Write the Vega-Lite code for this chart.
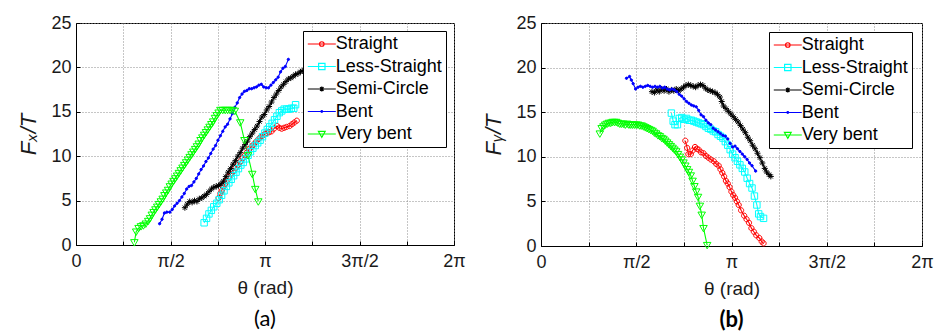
{
  "$schema": "https://vega.github.io/schema/vega-lite/v6.json",
  "background": "white",
  "padding": {"left": 17, "top": 13, "right": 0, "bottom": 0},
  "spacing": 16,
  "config": {
    "font": "Liberation Sans",
    "view": {"stroke": "#000000", "strokeWidth": 1},
    "axis": {
      "domainColor": "#000000", "tickColor": "#000000", "tickSize": -4,
      "labelFont": "Liberation Sans", "labelFontSize": 18, "labelColor": "#1a1a1a",
      "titleFont": "Liberation Sans", "titleFontSize": 19, "titleFontWeight": "normal", "titleColor": "#1a1a1a",
      "gridColor": "#8c8c8c", "gridDash": [1, 2], "gridWidth": 1, "gridOpacity": 1,
      "labelFlush": false, "labelOverlap": false
    },
    "legend": {
      "labelFont": "Liberation Sans", "labelFontSize": 18, "labelColor": "#000000",
      "symbolSize": 256, "symbolStrokeWidth": 1.2, "symbolOffset": 5.8, "labelOffset": 5,
      "rowPadding": 4.5, "padding": 4, "strokeColor": "#000000", "fillColor": "#ffffff"
    }
  },
  "datasets": {
    "a": [
      {"series": "Straight", "theta": 2.37, "F": 5.3}, {"series": "Straight", "theta": 2.40, "F": 5.8}, {"series": "Straight", "theta": 2.42, "F": 6.1}, {"series": "Straight", "theta": 2.45, "F": 6.6}, {"series": "Straight", "theta": 2.48, "F": 6.9}, {"series": "Straight", "theta": 2.50, "F": 7.2}, {"series": "Straight", "theta": 2.54, "F": 7.7}, {"series": "Straight", "theta": 2.57, "F": 8.0}, {"series": "Straight", "theta": 2.61, "F": 8.3}, {"series": "Straight", "theta": 2.65, "F": 8.7}, {"series": "Straight", "theta": 2.69, "F": 9.0}, {"series": "Straight", "theta": 2.73, "F": 9.4}, {"series": "Straight", "theta": 2.77, "F": 9.8}, {"series": "Straight", "theta": 2.81, "F": 10.1}, {"series": "Straight", "theta": 2.84, "F": 10.4}, {"series": "Straight", "theta": 2.88, "F": 10.8}, {"series": "Straight", "theta": 2.92, "F": 11.1}, {"series": "Straight", "theta": 2.95, "F": 11.3}, {"series": "Straight", "theta": 2.99, "F": 11.6}, {"series": "Straight", "theta": 3.03, "F": 11.9}, {"series": "Straight", "theta": 3.06, "F": 12.1}, {"series": "Straight", "theta": 3.10, "F": 12.3}, {"series": "Straight", "theta": 3.14, "F": 12.5}, {"series": "Straight", "theta": 3.17, "F": 12.6}, {"series": "Straight", "theta": 3.21, "F": 12.7}, {"series": "Straight", "theta": 3.25, "F": 12.8}, {"series": "Straight", "theta": 3.29, "F": 13.1}, {"series": "Straight", "theta": 3.34, "F": 13.4}, {"series": "Straight", "theta": 3.38, "F": 13.2}, {"series": "Straight", "theta": 3.42, "F": 13.1}, {"series": "Straight", "theta": 3.46, "F": 13.2}, {"series": "Straight", "theta": 3.50, "F": 13.3}, {"series": "Straight", "theta": 3.55, "F": 13.4}, {"series": "Straight", "theta": 3.59, "F": 13.6}, {"series": "Straight", "theta": 3.63, "F": 13.8}, {"series": "Straight", "theta": 3.67, "F": 14.0},
      {"series": "Less-Straight", "theta": 2.13, "F": 2.5}, {"series": "Less-Straight", "theta": 2.17, "F": 3.0}, {"series": "Less-Straight", "theta": 2.21, "F": 3.5}, {"series": "Less-Straight", "theta": 2.25, "F": 3.9}, {"series": "Less-Straight", "theta": 2.29, "F": 4.3}, {"series": "Less-Straight", "theta": 2.34, "F": 4.7}, {"series": "Less-Straight", "theta": 2.38, "F": 5.1}, {"series": "Less-Straight", "theta": 2.42, "F": 5.6}, {"series": "Less-Straight", "theta": 2.46, "F": 6.1}, {"series": "Less-Straight", "theta": 2.50, "F": 6.6}, {"series": "Less-Straight", "theta": 2.54, "F": 7.0}, {"series": "Less-Straight", "theta": 2.58, "F": 7.4}, {"series": "Less-Straight", "theta": 2.62, "F": 7.8}, {"series": "Less-Straight", "theta": 2.66, "F": 8.2}, {"series": "Less-Straight", "theta": 2.70, "F": 8.6}, {"series": "Less-Straight", "theta": 2.74, "F": 9.0}, {"series": "Less-Straight", "theta": 2.78, "F": 9.3}, {"series": "Less-Straight", "theta": 2.82, "F": 9.7}, {"series": "Less-Straight", "theta": 2.86, "F": 10.1}, {"series": "Less-Straight", "theta": 2.90, "F": 10.5}, {"series": "Less-Straight", "theta": 2.94, "F": 10.9}, {"series": "Less-Straight", "theta": 2.98, "F": 11.2}, {"series": "Less-Straight", "theta": 3.02, "F": 11.5}, {"series": "Less-Straight", "theta": 3.06, "F": 11.8}, {"series": "Less-Straight", "theta": 3.10, "F": 12.2}, {"series": "Less-Straight", "theta": 3.14, "F": 12.6}, {"series": "Less-Straight", "theta": 3.18, "F": 13.0}, {"series": "Less-Straight", "theta": 3.22, "F": 13.3}, {"series": "Less-Straight", "theta": 3.26, "F": 13.7}, {"series": "Less-Straight", "theta": 3.30, "F": 14.1}, {"series": "Less-Straight", "theta": 3.34, "F": 14.5}, {"series": "Less-Straight", "theta": 3.38, "F": 14.9}, {"series": "Less-Straight", "theta": 3.42, "F": 15.1}, {"series": "Less-Straight", "theta": 3.46, "F": 15.3}, {"series": "Less-Straight", "theta": 3.50, "F": 15.3}, {"series": "Less-Straight", "theta": 3.54, "F": 15.3}, {"series": "Less-Straight", "theta": 3.58, "F": 15.4}, {"series": "Less-Straight", "theta": 3.62, "F": 15.4}, {"series": "Less-Straight", "theta": 3.65, "F": 15.8},
      {"series": "Semi-Circle", "theta": 1.81, "F": 4.2}, {"series": "Semi-Circle", "theta": 1.85, "F": 4.6}, {"series": "Semi-Circle", "theta": 1.89, "F": 4.9}, {"series": "Semi-Circle", "theta": 1.93, "F": 4.8}, {"series": "Semi-Circle", "theta": 1.97, "F": 5.0}, {"series": "Semi-Circle", "theta": 2.01, "F": 4.9}, {"series": "Semi-Circle", "theta": 2.05, "F": 5.2}, {"series": "Semi-Circle", "theta": 2.09, "F": 5.3}, {"series": "Semi-Circle", "theta": 2.13, "F": 5.5}, {"series": "Semi-Circle", "theta": 2.17, "F": 5.7}, {"series": "Semi-Circle", "theta": 2.21, "F": 6.0}, {"series": "Semi-Circle", "theta": 2.25, "F": 6.3}, {"series": "Semi-Circle", "theta": 2.29, "F": 6.5}, {"series": "Semi-Circle", "theta": 2.33, "F": 6.6}, {"series": "Semi-Circle", "theta": 2.37, "F": 6.7}, {"series": "Semi-Circle", "theta": 2.41, "F": 6.9}, {"series": "Semi-Circle", "theta": 2.45, "F": 7.2}, {"series": "Semi-Circle", "theta": 2.49, "F": 7.7}, {"series": "Semi-Circle", "theta": 2.53, "F": 8.2}, {"series": "Semi-Circle", "theta": 2.57, "F": 8.6}, {"series": "Semi-Circle", "theta": 2.61, "F": 9.1}, {"series": "Semi-Circle", "theta": 2.65, "F": 9.5}, {"series": "Semi-Circle", "theta": 2.69, "F": 10.0}, {"series": "Semi-Circle", "theta": 2.73, "F": 10.4}, {"series": "Semi-Circle", "theta": 2.77, "F": 10.9}, {"series": "Semi-Circle", "theta": 2.81, "F": 11.3}, {"series": "Semi-Circle", "theta": 2.85, "F": 11.7}, {"series": "Semi-Circle", "theta": 2.89, "F": 12.2}, {"series": "Semi-Circle", "theta": 2.93, "F": 12.6}, {"series": "Semi-Circle", "theta": 2.97, "F": 13.0}, {"series": "Semi-Circle", "theta": 3.01, "F": 13.4}, {"series": "Semi-Circle", "theta": 3.05, "F": 13.9}, {"series": "Semi-Circle", "theta": 3.09, "F": 14.4}, {"series": "Semi-Circle", "theta": 3.13, "F": 14.7}, {"series": "Semi-Circle", "theta": 3.17, "F": 15.2}, {"series": "Semi-Circle", "theta": 3.21, "F": 15.6}, {"series": "Semi-Circle", "theta": 3.25, "F": 16.1}, {"series": "Semi-Circle", "theta": 3.29, "F": 16.6}, {"series": "Semi-Circle", "theta": 3.33, "F": 17.0}, {"series": "Semi-Circle", "theta": 3.37, "F": 17.4}, {"series": "Semi-Circle", "theta": 3.41, "F": 17.8}, {"series": "Semi-Circle", "theta": 3.45, "F": 18.1}, {"series": "Semi-Circle", "theta": 3.49, "F": 18.4}, {"series": "Semi-Circle", "theta": 3.53, "F": 18.7}, {"series": "Semi-Circle", "theta": 3.57, "F": 18.8}, {"series": "Semi-Circle", "theta": 3.61, "F": 19.0}, {"series": "Semi-Circle", "theta": 3.65, "F": 19.2}, {"series": "Semi-Circle", "theta": 3.69, "F": 19.3}, {"series": "Semi-Circle", "theta": 3.73, "F": 19.5}, {"series": "Semi-Circle", "theta": 3.76, "F": 19.6},
      {"series": "Bent", "theta": 1.39, "F": 2.4}, {"series": "Bent", "theta": 1.43, "F": 2.9}, {"series": "Bent", "theta": 1.47, "F": 3.6}, {"series": "Bent", "theta": 1.51, "F": 3.7}, {"series": "Bent", "theta": 1.56, "F": 3.7}, {"series": "Bent", "theta": 1.60, "F": 4.0}, {"series": "Bent", "theta": 1.64, "F": 4.4}, {"series": "Bent", "theta": 1.68, "F": 4.7}, {"series": "Bent", "theta": 1.72, "F": 5.0}, {"series": "Bent", "theta": 1.76, "F": 5.4}, {"series": "Bent", "theta": 1.80, "F": 5.8}, {"series": "Bent", "theta": 1.84, "F": 6.3}, {"series": "Bent", "theta": 1.88, "F": 6.6}, {"series": "Bent", "theta": 1.92, "F": 6.7}, {"series": "Bent", "theta": 1.96, "F": 7.1}, {"series": "Bent", "theta": 2.00, "F": 7.5}, {"series": "Bent", "theta": 2.04, "F": 8.0}, {"series": "Bent", "theta": 2.08, "F": 8.5}, {"series": "Bent", "theta": 2.12, "F": 8.9}, {"series": "Bent", "theta": 2.16, "F": 9.4}, {"series": "Bent", "theta": 2.20, "F": 9.8}, {"series": "Bent", "theta": 2.24, "F": 10.3}, {"series": "Bent", "theta": 2.28, "F": 10.8}, {"series": "Bent", "theta": 2.32, "F": 11.2}, {"series": "Bent", "theta": 2.36, "F": 11.8}, {"series": "Bent", "theta": 2.40, "F": 12.3}, {"series": "Bent", "theta": 2.44, "F": 12.8}, {"series": "Bent", "theta": 2.48, "F": 13.3}, {"series": "Bent", "theta": 2.52, "F": 13.6}, {"series": "Bent", "theta": 2.56, "F": 14.2}, {"series": "Bent", "theta": 2.60, "F": 14.8}, {"series": "Bent", "theta": 2.64, "F": 15.5}, {"series": "Bent", "theta": 2.68, "F": 16.0}, {"series": "Bent", "theta": 2.72, "F": 16.6}, {"series": "Bent", "theta": 2.76, "F": 17.0}, {"series": "Bent", "theta": 2.80, "F": 17.3}, {"series": "Bent", "theta": 2.84, "F": 17.4}, {"series": "Bent", "theta": 2.88, "F": 17.6}, {"series": "Bent", "theta": 2.92, "F": 17.6}, {"series": "Bent", "theta": 2.96, "F": 17.7}, {"series": "Bent", "theta": 3.00, "F": 17.8}, {"series": "Bent", "theta": 3.04, "F": 18.0}, {"series": "Bent", "theta": 3.08, "F": 18.1}, {"series": "Bent", "theta": 3.12, "F": 17.8}, {"series": "Bent", "theta": 3.16, "F": 17.7}, {"series": "Bent", "theta": 3.20, "F": 17.7}, {"series": "Bent", "theta": 3.24, "F": 18.0}, {"series": "Bent", "theta": 3.28, "F": 18.3}, {"series": "Bent", "theta": 3.32, "F": 18.6}, {"series": "Bent", "theta": 3.36, "F": 18.9}, {"series": "Bent", "theta": 3.40, "F": 19.5}, {"series": "Bent", "theta": 3.44, "F": 19.9}, {"series": "Bent", "theta": 3.48, "F": 20.1}, {"series": "Bent", "theta": 3.53, "F": 20.9},
      {"series": "Very bent", "theta": 0.97, "F": 0.3}, {"series": "Very bent", "theta": 1.00, "F": 1.5}, {"series": "Very bent", "theta": 1.04, "F": 1.9}, {"series": "Very bent", "theta": 1.08, "F": 2.1}, {"series": "Very bent", "theta": 1.12, "F": 2.2}, {"series": "Very bent", "theta": 1.16, "F": 2.4}, {"series": "Very bent", "theta": 1.20, "F": 2.7}, {"series": "Very bent", "theta": 1.23, "F": 3.0}, {"series": "Very bent", "theta": 1.26, "F": 3.4}, {"series": "Very bent", "theta": 1.29, "F": 3.7}, {"series": "Very bent", "theta": 1.32, "F": 4.0}, {"series": "Very bent", "theta": 1.35, "F": 4.3}, {"series": "Very bent", "theta": 1.38, "F": 4.6}, {"series": "Very bent", "theta": 1.41, "F": 4.9}, {"series": "Very bent", "theta": 1.44, "F": 5.2}, {"series": "Very bent", "theta": 1.47, "F": 5.6}, {"series": "Very bent", "theta": 1.50, "F": 5.9}, {"series": "Very bent", "theta": 1.53, "F": 6.2}, {"series": "Very bent", "theta": 1.56, "F": 6.6}, {"series": "Very bent", "theta": 1.59, "F": 6.9}, {"series": "Very bent", "theta": 1.62, "F": 7.2}, {"series": "Very bent", "theta": 1.65, "F": 7.5}, {"series": "Very bent", "theta": 1.68, "F": 7.8}, {"series": "Very bent", "theta": 1.71, "F": 8.1}, {"series": "Very bent", "theta": 1.74, "F": 8.4}, {"series": "Very bent", "theta": 1.77, "F": 8.7}, {"series": "Very bent", "theta": 1.80, "F": 9.0}, {"series": "Very bent", "theta": 1.83, "F": 9.3}, {"series": "Very bent", "theta": 1.86, "F": 9.6}, {"series": "Very bent", "theta": 1.89, "F": 9.9}, {"series": "Very bent", "theta": 1.92, "F": 10.2}, {"series": "Very bent", "theta": 1.95, "F": 10.5}, {"series": "Very bent", "theta": 1.98, "F": 10.8}, {"series": "Very bent", "theta": 2.01, "F": 11.1}, {"series": "Very bent", "theta": 2.04, "F": 11.4}, {"series": "Very bent", "theta": 2.07, "F": 11.8}, {"series": "Very bent", "theta": 2.10, "F": 12.1}, {"series": "Very bent", "theta": 2.13, "F": 12.4}, {"series": "Very bent", "theta": 2.16, "F": 12.7}, {"series": "Very bent", "theta": 2.19, "F": 13.0}, {"series": "Very bent", "theta": 2.22, "F": 13.3}, {"series": "Very bent", "theta": 2.25, "F": 13.6}, {"series": "Very bent", "theta": 2.28, "F": 13.9}, {"series": "Very bent", "theta": 2.31, "F": 14.3}, {"series": "Very bent", "theta": 2.34, "F": 14.6}, {"series": "Very bent", "theta": 2.37, "F": 14.9}, {"series": "Very bent", "theta": 2.40, "F": 15.2}, {"series": "Very bent", "theta": 2.44, "F": 15.2}, {"series": "Very bent", "theta": 2.48, "F": 15.2}, {"series": "Very bent", "theta": 2.52, "F": 15.2}, {"series": "Very bent", "theta": 2.56, "F": 15.2}, {"series": "Very bent", "theta": 2.60, "F": 15.2}, {"series": "Very bent", "theta": 2.64, "F": 15.1}, {"series": "Very bent", "theta": 2.73, "F": 13.8}, {"series": "Very bent", "theta": 2.80, "F": 11.8}, {"series": "Very bent", "theta": 2.86, "F": 10.1}, {"series": "Very bent", "theta": 2.93, "F": 8.0}, {"series": "Very bent", "theta": 2.98, "F": 6.3}, {"series": "Very bent", "theta": 3.03, "F": 4.9}
    ],
    "b": [
      {"series": "Straight", "theta": 2.38, "F": 11.8}, {"series": "Straight", "theta": 2.41, "F": 11.0}, {"series": "Straight", "theta": 2.43, "F": 10.3}, {"series": "Straight", "theta": 2.47, "F": 10.3}, {"series": "Straight", "theta": 2.50, "F": 10.7}, {"series": "Straight", "theta": 2.54, "F": 11.1}, {"series": "Straight", "theta": 2.57, "F": 10.9}, {"series": "Straight", "theta": 2.60, "F": 10.8}, {"series": "Straight", "theta": 2.64, "F": 10.5}, {"series": "Straight", "theta": 2.68, "F": 10.4}, {"series": "Straight", "theta": 2.72, "F": 10.1}, {"series": "Straight", "theta": 2.76, "F": 9.9}, {"series": "Straight", "theta": 2.80, "F": 9.7}, {"series": "Straight", "theta": 2.85, "F": 9.5}, {"series": "Straight", "theta": 2.89, "F": 9.2}, {"series": "Straight", "theta": 2.93, "F": 9.0}, {"series": "Straight", "theta": 2.96, "F": 8.6}, {"series": "Straight", "theta": 2.99, "F": 8.2}, {"series": "Straight", "theta": 3.02, "F": 7.8}, {"series": "Straight", "theta": 3.05, "F": 7.3}, {"series": "Straight", "theta": 3.08, "F": 7.0}, {"series": "Straight", "theta": 3.11, "F": 6.6}, {"series": "Straight", "theta": 3.14, "F": 6.1}, {"series": "Straight", "theta": 3.17, "F": 5.7}, {"series": "Straight", "theta": 3.20, "F": 5.4}, {"series": "Straight", "theta": 3.23, "F": 5.0}, {"series": "Straight", "theta": 3.26, "F": 4.6}, {"series": "Straight", "theta": 3.30, "F": 4.0}, {"series": "Straight", "theta": 3.35, "F": 3.4}, {"series": "Straight", "theta": 3.39, "F": 3.0}, {"series": "Straight", "theta": 3.43, "F": 2.6}, {"series": "Straight", "theta": 3.47, "F": 2.0}, {"series": "Straight", "theta": 3.51, "F": 1.6}, {"series": "Straight", "theta": 3.55, "F": 1.2}, {"series": "Straight", "theta": 3.60, "F": 0.9}, {"series": "Straight", "theta": 3.64, "F": 0.5}, {"series": "Straight", "theta": 3.67, "F": 0.3},
      {"series": "Less-Straight", "theta": 2.15, "F": 14.9}, {"series": "Less-Straight", "theta": 2.18, "F": 14.0}, {"series": "Less-Straight", "theta": 2.21, "F": 13.6}, {"series": "Less-Straight", "theta": 2.25, "F": 13.6}, {"series": "Less-Straight", "theta": 2.28, "F": 14.3}, {"series": "Less-Straight", "theta": 2.32, "F": 14.4}, {"series": "Less-Straight", "theta": 2.36, "F": 14.2}, {"series": "Less-Straight", "theta": 2.40, "F": 14.3}, {"series": "Less-Straight", "theta": 2.44, "F": 14.1}, {"series": "Less-Straight", "theta": 2.48, "F": 14.1}, {"series": "Less-Straight", "theta": 2.52, "F": 14.0}, {"series": "Less-Straight", "theta": 2.56, "F": 13.9}, {"series": "Less-Straight", "theta": 2.60, "F": 13.8}, {"series": "Less-Straight", "theta": 2.64, "F": 13.7}, {"series": "Less-Straight", "theta": 2.68, "F": 13.6}, {"series": "Less-Straight", "theta": 2.72, "F": 13.4}, {"series": "Less-Straight", "theta": 2.76, "F": 13.2}, {"series": "Less-Straight", "theta": 2.80, "F": 13.1}, {"series": "Less-Straight", "theta": 2.84, "F": 12.9}, {"series": "Less-Straight", "theta": 2.88, "F": 12.8}, {"series": "Less-Straight", "theta": 2.92, "F": 12.5}, {"series": "Less-Straight", "theta": 2.96, "F": 12.3}, {"series": "Less-Straight", "theta": 3.00, "F": 12.1}, {"series": "Less-Straight", "theta": 3.04, "F": 11.7}, {"series": "Less-Straight", "theta": 3.08, "F": 11.3}, {"series": "Less-Straight", "theta": 3.12, "F": 10.8}, {"series": "Less-Straight", "theta": 3.16, "F": 10.3}, {"series": "Less-Straight", "theta": 3.20, "F": 9.9}, {"series": "Less-Straight", "theta": 3.24, "F": 9.5}, {"series": "Less-Straight", "theta": 3.28, "F": 9.1}, {"series": "Less-Straight", "theta": 3.32, "F": 8.7}, {"series": "Less-Straight", "theta": 3.36, "F": 8.3}, {"series": "Less-Straight", "theta": 3.40, "F": 7.6}, {"series": "Less-Straight", "theta": 3.44, "F": 7.0}, {"series": "Less-Straight", "theta": 3.48, "F": 6.5}, {"series": "Less-Straight", "theta": 3.52, "F": 5.6}, {"series": "Less-Straight", "theta": 3.56, "F": 4.6}, {"series": "Less-Straight", "theta": 3.59, "F": 3.6}, {"series": "Less-Straight", "theta": 3.62, "F": 3.3}, {"series": "Less-Straight", "theta": 3.67, "F": 3.1},
      {"series": "Semi-Circle", "theta": 1.83, "F": 17.3}, {"series": "Semi-Circle", "theta": 1.87, "F": 17.2}, {"series": "Semi-Circle", "theta": 1.91, "F": 17.5}, {"series": "Semi-Circle", "theta": 1.95, "F": 17.3}, {"series": "Semi-Circle", "theta": 1.99, "F": 17.6}, {"series": "Semi-Circle", "theta": 2.03, "F": 17.4}, {"series": "Semi-Circle", "theta": 2.07, "F": 17.6}, {"series": "Semi-Circle", "theta": 2.11, "F": 17.3}, {"series": "Semi-Circle", "theta": 2.15, "F": 17.5}, {"series": "Semi-Circle", "theta": 2.19, "F": 17.4}, {"series": "Semi-Circle", "theta": 2.23, "F": 17.6}, {"series": "Semi-Circle", "theta": 2.27, "F": 17.4}, {"series": "Semi-Circle", "theta": 2.31, "F": 17.6}, {"series": "Semi-Circle", "theta": 2.35, "F": 17.8}, {"series": "Semi-Circle", "theta": 2.39, "F": 18.0}, {"series": "Semi-Circle", "theta": 2.43, "F": 18.1}, {"series": "Semi-Circle", "theta": 2.47, "F": 18.0}, {"series": "Semi-Circle", "theta": 2.51, "F": 17.9}, {"series": "Semi-Circle", "theta": 2.55, "F": 17.8}, {"series": "Semi-Circle", "theta": 2.59, "F": 18.0}, {"series": "Semi-Circle", "theta": 2.63, "F": 18.1}, {"series": "Semi-Circle", "theta": 2.67, "F": 18.0}, {"series": "Semi-Circle", "theta": 2.71, "F": 17.7}, {"series": "Semi-Circle", "theta": 2.75, "F": 17.5}, {"series": "Semi-Circle", "theta": 2.79, "F": 17.4}, {"series": "Semi-Circle", "theta": 2.83, "F": 17.3}, {"series": "Semi-Circle", "theta": 2.87, "F": 17.2}, {"series": "Semi-Circle", "theta": 2.91, "F": 17.0}, {"series": "Semi-Circle", "theta": 2.95, "F": 16.7}, {"series": "Semi-Circle", "theta": 2.98, "F": 16.2}, {"series": "Semi-Circle", "theta": 3.01, "F": 15.7}, {"series": "Semi-Circle", "theta": 3.05, "F": 15.4}, {"series": "Semi-Circle", "theta": 3.09, "F": 15.1}, {"series": "Semi-Circle", "theta": 3.13, "F": 14.8}, {"series": "Semi-Circle", "theta": 3.17, "F": 14.5}, {"series": "Semi-Circle", "theta": 3.21, "F": 14.2}, {"series": "Semi-Circle", "theta": 3.25, "F": 13.9}, {"series": "Semi-Circle", "theta": 3.29, "F": 13.5}, {"series": "Semi-Circle", "theta": 3.33, "F": 13.1}, {"series": "Semi-Circle", "theta": 3.37, "F": 12.7}, {"series": "Semi-Circle", "theta": 3.41, "F": 12.2}, {"series": "Semi-Circle", "theta": 3.45, "F": 11.8}, {"series": "Semi-Circle", "theta": 3.49, "F": 11.3}, {"series": "Semi-Circle", "theta": 3.53, "F": 10.9}, {"series": "Semi-Circle", "theta": 3.57, "F": 10.4}, {"series": "Semi-Circle", "theta": 3.61, "F": 9.9}, {"series": "Semi-Circle", "theta": 3.65, "F": 9.3}, {"series": "Semi-Circle", "theta": 3.69, "F": 8.7}, {"series": "Semi-Circle", "theta": 3.72, "F": 8.3}, {"series": "Semi-Circle", "theta": 3.76, "F": 8.0}, {"series": "Semi-Circle", "theta": 3.79, "F": 7.8},
      {"series": "Bent", "theta": 1.41, "F": 18.8}, {"series": "Bent", "theta": 1.46, "F": 19.0}, {"series": "Bent", "theta": 1.49, "F": 18.6}, {"series": "Bent", "theta": 1.52, "F": 18.2}, {"series": "Bent", "theta": 1.56, "F": 17.6}, {"series": "Bent", "theta": 1.60, "F": 17.8}, {"series": "Bent", "theta": 1.64, "F": 17.9}, {"series": "Bent", "theta": 1.68, "F": 17.8}, {"series": "Bent", "theta": 1.72, "F": 17.9}, {"series": "Bent", "theta": 1.76, "F": 18.0}, {"series": "Bent", "theta": 1.80, "F": 17.9}, {"series": "Bent", "theta": 1.84, "F": 17.8}, {"series": "Bent", "theta": 1.88, "F": 17.9}, {"series": "Bent", "theta": 1.92, "F": 17.8}, {"series": "Bent", "theta": 1.96, "F": 17.9}, {"series": "Bent", "theta": 2.00, "F": 17.7}, {"series": "Bent", "theta": 2.04, "F": 17.8}, {"series": "Bent", "theta": 2.08, "F": 17.6}, {"series": "Bent", "theta": 2.12, "F": 17.5}, {"series": "Bent", "theta": 2.16, "F": 17.6}, {"series": "Bent", "theta": 2.20, "F": 17.5}, {"series": "Bent", "theta": 2.24, "F": 17.3}, {"series": "Bent", "theta": 2.28, "F": 17.0}, {"series": "Bent", "theta": 2.32, "F": 16.8}, {"series": "Bent", "theta": 2.36, "F": 16.5}, {"series": "Bent", "theta": 2.40, "F": 16.2}, {"series": "Bent", "theta": 2.44, "F": 16.0}, {"series": "Bent", "theta": 2.48, "F": 15.8}, {"series": "Bent", "theta": 2.52, "F": 15.7}, {"series": "Bent", "theta": 2.56, "F": 15.6}, {"series": "Bent", "theta": 2.60, "F": 15.2}, {"series": "Bent", "theta": 2.64, "F": 14.7}, {"series": "Bent", "theta": 2.68, "F": 14.5}, {"series": "Bent", "theta": 2.72, "F": 14.1}, {"series": "Bent", "theta": 2.76, "F": 13.8}, {"series": "Bent", "theta": 2.80, "F": 13.6}, {"series": "Bent", "theta": 2.84, "F": 13.2}, {"series": "Bent", "theta": 2.88, "F": 13.0}, {"series": "Bent", "theta": 2.92, "F": 12.8}, {"series": "Bent", "theta": 2.96, "F": 12.6}, {"series": "Bent", "theta": 3.00, "F": 12.4}, {"series": "Bent", "theta": 3.04, "F": 12.3}, {"series": "Bent", "theta": 3.08, "F": 12.0}, {"series": "Bent", "theta": 3.12, "F": 11.5}, {"series": "Bent", "theta": 3.16, "F": 11.1}, {"series": "Bent", "theta": 3.20, "F": 11.2}, {"series": "Bent", "theta": 3.24, "F": 10.9}, {"series": "Bent", "theta": 3.28, "F": 10.6}, {"series": "Bent", "theta": 3.32, "F": 10.3}, {"series": "Bent", "theta": 3.36, "F": 10.0}, {"series": "Bent", "theta": 3.40, "F": 9.7}, {"series": "Bent", "theta": 3.44, "F": 9.3}, {"series": "Bent", "theta": 3.48, "F": 9.0}, {"series": "Bent", "theta": 3.54, "F": 8.4},
      {"series": "Very bent", "theta": 0.97, "F": 12.6}, {"series": "Very bent", "theta": 1.00, "F": 13.2}, {"series": "Very bent", "theta": 1.03, "F": 13.4}, {"series": "Very bent", "theta": 1.06, "F": 13.6}, {"series": "Very bent", "theta": 1.09, "F": 13.7}, {"series": "Very bent", "theta": 1.12, "F": 13.8}, {"series": "Very bent", "theta": 1.15, "F": 13.8}, {"series": "Very bent", "theta": 1.18, "F": 13.9}, {"series": "Very bent", "theta": 1.21, "F": 13.9}, {"series": "Very bent", "theta": 1.24, "F": 13.9}, {"series": "Very bent", "theta": 1.27, "F": 13.8}, {"series": "Very bent", "theta": 1.30, "F": 13.7}, {"series": "Very bent", "theta": 1.33, "F": 13.7}, {"series": "Very bent", "theta": 1.36, "F": 13.7}, {"series": "Very bent", "theta": 1.39, "F": 13.6}, {"series": "Very bent", "theta": 1.42, "F": 13.7}, {"series": "Very bent", "theta": 1.45, "F": 13.6}, {"series": "Very bent", "theta": 1.48, "F": 13.6}, {"series": "Very bent", "theta": 1.51, "F": 13.6}, {"series": "Very bent", "theta": 1.54, "F": 13.6}, {"series": "Very bent", "theta": 1.57, "F": 13.6}, {"series": "Very bent", "theta": 1.60, "F": 13.6}, {"series": "Very bent", "theta": 1.63, "F": 13.5}, {"series": "Very bent", "theta": 1.66, "F": 13.5}, {"series": "Very bent", "theta": 1.69, "F": 13.4}, {"series": "Very bent", "theta": 1.72, "F": 13.3}, {"series": "Very bent", "theta": 1.75, "F": 13.2}, {"series": "Very bent", "theta": 1.78, "F": 13.1}, {"series": "Very bent", "theta": 1.81, "F": 13.0}, {"series": "Very bent", "theta": 1.84, "F": 12.9}, {"series": "Very bent", "theta": 1.87, "F": 12.7}, {"series": "Very bent", "theta": 1.90, "F": 12.6}, {"series": "Very bent", "theta": 1.93, "F": 12.4}, {"series": "Very bent", "theta": 1.96, "F": 12.3}, {"series": "Very bent", "theta": 1.99, "F": 12.1}, {"series": "Very bent", "theta": 2.02, "F": 12.0}, {"series": "Very bent", "theta": 2.05, "F": 11.8}, {"series": "Very bent", "theta": 2.08, "F": 11.6}, {"series": "Very bent", "theta": 2.11, "F": 11.4}, {"series": "Very bent", "theta": 2.14, "F": 11.2}, {"series": "Very bent", "theta": 2.17, "F": 11.0}, {"series": "Very bent", "theta": 2.20, "F": 10.8}, {"series": "Very bent", "theta": 2.23, "F": 10.6}, {"series": "Very bent", "theta": 2.26, "F": 10.3}, {"series": "Very bent", "theta": 2.29, "F": 10.0}, {"series": "Very bent", "theta": 2.32, "F": 9.7}, {"series": "Very bent", "theta": 2.35, "F": 9.35}, {"series": "Very bent", "theta": 2.38, "F": 9.0}, {"series": "Very bent", "theta": 2.41, "F": 8.6}, {"series": "Very bent", "theta": 2.44, "F": 8.3}, {"series": "Very bent", "theta": 2.47, "F": 7.9}, {"series": "Very bent", "theta": 2.50, "F": 7.3}, {"series": "Very bent", "theta": 2.53, "F": 6.7}, {"series": "Very bent", "theta": 2.56, "F": 6.1}, {"series": "Very bent", "theta": 2.59, "F": 5.5}, {"series": "Very bent", "theta": 2.62, "F": 4.5}, {"series": "Very bent", "theta": 2.65, "F": 3.5}, {"series": "Very bent", "theta": 2.68, "F": 2.0}, {"series": "Very bent", "theta": 2.74, "F": 0.1}
    ]
  },
  "hconcat": [
    {
      "width": 378, "height": 222,
      "data": {"name": "a"},
      "title": {"text": "(a)", "orient": "bottom", "font": "Lato", "fontSize": 22, "fontWeight": "normal", "color": "#000000", "offset": 12},
      "encoding": {
        "x": {"field": "theta", "type": "quantitative", "scale": {"domain": [0, 6.2832], "nice": false, "zero": false},
          "axis": {"title": "θ (rad)", "values": [0, 0.7854, 1.5708, 2.3562, 3.1416, 3.927, 4.7124, 5.4978, 6.2832],
            "labelExpr": "datum.value < 0.1 ? '0' : abs(datum.value - 1.5708) < 0.01 ? 'π/2' : abs(datum.value - 3.1416) < 0.01 ? 'π' : abs(datum.value - 4.7124) < 0.01 ? '3π/2' : abs(datum.value - 6.2832) < 0.01 ? '2π' : ''",
            "labelPadding": 11, "titlePadding": 8}},
        "y": {"field": "F", "type": "quantitative", "scale": {"domain": [0, 25], "nice": false},
          "axis": {"title": "Fₓ/T", "titleFontStyle": "italic", "titleFontSize": 22, "values": [0, 5, 10, 15, 20, 25], "labelPadding": 9, "titlePadding": 10}}
      },
      "layer": [
        {"mark": {"type": "line", "strokeWidth": 1.1},
          "encoding": {"stroke": {"field": "series", "type": "nominal", "scale": {"domain": ["Straight", "Less-Straight", "Semi-Circle", "Bent", "Very bent"], "range": ["#ff0000", "#00ffff", "#000000", "#0000ff", "#00ff00"]}, "legend": null}}},
        {"mark": {"type": "point", "strokeWidth": 1, "opacity": 1, "size": 36},
          "encoding": {
            "stroke": {"field": "series", "type": "nominal", "legend": null},
            "shape": {"field": "series", "type": "nominal", "scale": {"domain": ["Straight", "Less-Straight", "Semi-Circle", "Bent", "Very bent"], "range": [
              "M-0.87,0A0.87,0.87,0,1,0,0.87,0A0.87,0.87,0,1,0,-0.87,0Z",
              "M-1.07,-1.07H1.07V1.07H-1.07Z",
              "M-1,0H1M0,-1V1M-0.7,-0.7L0.7,0.7M-0.7,0.7L0.7,-0.7",
              "M-0.4,0A0.4,0.4,0,1,0,0.4,0A0.4,0.4,0,1,0,-0.4,0Z",
              "M-1.25,-0.9L1.25,-0.9L0,1.25Z"]}, "legend": null},
            "fill": {"field": "series", "type": "nominal", "scale": {"domain": ["Straight", "Less-Straight", "Semi-Circle", "Bent", "Very bent"], "range": ["transparent", "transparent", "transparent", "#0000ff", "transparent"]}, "legend": null}
          }},
        {"transform": [{"filter": "datum.theta < -1"}],
          "mark": {"type": "point", "filled": false, "strokeWidth": 1.2, "opacity": 1},
          "encoding": {
            "color": {"field": "series", "type": "nominal", "scale": {"domain": ["Straight", "Less-Straight", "Semi-Circle", "Bent", "Very bent"], "range": ["#ff0000", "#00ffff", "#000000", "#0000ff", "#00ff00"]},
              "legend": {"title": null, "orient": "none", "legendX": 227, "legendY": 8, "encode": {"legend": {"update": {"strokeWidth": {"value": 2}}}}}},
            "shape": {"field": "series", "type": "nominal", "scale": {"domain": ["Straight", "Less-Straight", "Semi-Circle", "Bent", "Very bent"], "range": [
              "M-1.75,0H1.75M-0.28,0A0.28,0.28,0,1,0,0.28,0A0.28,0.28,0,1,0,-0.28,0Z",
              "M-1.75,0H1.75M-0.4,-0.4H0.4V0.4H-0.4Z",
              "M-1.75,0H1.75M0,-0.3V0.3M-0.22,-0.22L0.22,0.22M-0.22,0.22L0.22,-0.22",
              "M-1.75,0H1.75M-0.1,0A0.1,0.1,0,1,0,0.1,0A0.1,0.1,0,1,0,-0.1,0Z",
              "M-1.75,0H1.75M-0.42,-0.32L0.42,-0.32L0,0.42Z"]},
              "legend": {"title": null, "orient": "none", "legendX": 227, "legendY": 8}}
          }}
      ],
      "resolve": {"scale": {"shape": "independent", "color": "independent"}}
    },
    {
      "width": 381, "height": 223,
      "data": {"name": "b"},
      "title": {"text": "(b)", "orient": "bottom", "font": "Lato", "fontSize": 22, "fontWeight": "bold", "color": "#000000", "offset": 12},
      "encoding": {
        "x": {"field": "theta", "type": "quantitative", "scale": {"domain": [0, 6.2832], "nice": false, "zero": false},
          "axis": {"title": "θ (rad)", "values": [0, 0.7854, 1.5708, 2.3562, 3.1416, 3.927, 4.7124, 5.4978, 6.2832],
            "labelExpr": "datum.value < 0.1 ? '0' : abs(datum.value - 1.5708) < 0.01 ? 'π/2' : abs(datum.value - 3.1416) < 0.01 ? 'π' : abs(datum.value - 4.7124) < 0.01 ? '3π/2' : abs(datum.value - 6.2832) < 0.01 ? '2π' : ''",
            "labelPadding": 11, "titlePadding": 8}},
        "y": {"field": "F", "type": "quantitative", "scale": {"domain": [0, 25], "nice": false},
          "axis": {"title": "Fᵧ/T", "titleFontStyle": "italic", "titleFontSize": 22, "values": [0, 5, 10, 15, 20, 25], "labelPadding": 9, "titlePadding": 10}}
      },
      "layer": [
        {"mark": {"type": "line", "strokeWidth": 1.1},
          "encoding": {"stroke": {"field": "series", "type": "nominal", "scale": {"domain": ["Straight", "Less-Straight", "Semi-Circle", "Bent", "Very bent"], "range": ["#ff0000", "#00ffff", "#000000", "#0000ff", "#00ff00"]}, "legend": null}}},
        {"mark": {"type": "point", "strokeWidth": 1, "opacity": 1, "size": 36},
          "encoding": {
            "stroke": {"field": "series", "type": "nominal", "legend": null},
            "shape": {"field": "series", "type": "nominal", "scale": {"domain": ["Straight", "Less-Straight", "Semi-Circle", "Bent", "Very bent"], "range": [
              "M-0.87,0A0.87,0.87,0,1,0,0.87,0A0.87,0.87,0,1,0,-0.87,0Z",
              "M-1.07,-1.07H1.07V1.07H-1.07Z",
              "M-1,0H1M0,-1V1M-0.7,-0.7L0.7,0.7M-0.7,0.7L0.7,-0.7",
              "M-0.4,0A0.4,0.4,0,1,0,0.4,0A0.4,0.4,0,1,0,-0.4,0Z",
              "M-1.25,-0.9L1.25,-0.9L0,1.25Z"]}, "legend": null},
            "fill": {"field": "series", "type": "nominal", "scale": {"domain": ["Straight", "Less-Straight", "Semi-Circle", "Bent", "Very bent"], "range": ["transparent", "transparent", "transparent", "#0000ff", "transparent"]}, "legend": null}
          }},
        {"transform": [{"filter": "datum.theta < -1"}],
          "mark": {"type": "point", "filled": false, "strokeWidth": 1.2, "opacity": 1},
          "encoding": {
            "color": {"field": "series", "type": "nominal", "scale": {"domain": ["Straight", "Less-Straight", "Semi-Circle", "Bent", "Very bent"], "range": ["#ff0000", "#00ffff", "#000000", "#0000ff", "#00ff00"]},
              "legend": {"title": null, "orient": "none", "legendX": 228, "legendY": 9, "encode": {"legend": {"update": {"strokeWidth": {"value": 1.5}}}}}},
            "shape": {"field": "series", "type": "nominal", "scale": {"domain": ["Straight", "Less-Straight", "Semi-Circle", "Bent", "Very bent"], "range": [
              "M-1.75,0H1.75M-0.28,0A0.28,0.28,0,1,0,0.28,0A0.28,0.28,0,1,0,-0.28,0Z",
              "M-1.75,0H1.75M-0.4,-0.4H0.4V0.4H-0.4Z",
              "M-1.75,0H1.75M0,-0.3V0.3M-0.22,-0.22L0.22,0.22M-0.22,0.22L0.22,-0.22",
              "M-1.75,0H1.75M-0.1,0A0.1,0.1,0,1,0,0.1,0A0.1,0.1,0,1,0,-0.1,0Z",
              "M-1.75,0H1.75M-0.42,-0.32L0.42,-0.32L0,0.42Z"]},
              "legend": {"title": null, "orient": "none", "legendX": 228, "legendY": 9}}
          }}
      ],
      "resolve": {"scale": {"shape": "independent", "color": "independent"}}
    }
  ]
}
